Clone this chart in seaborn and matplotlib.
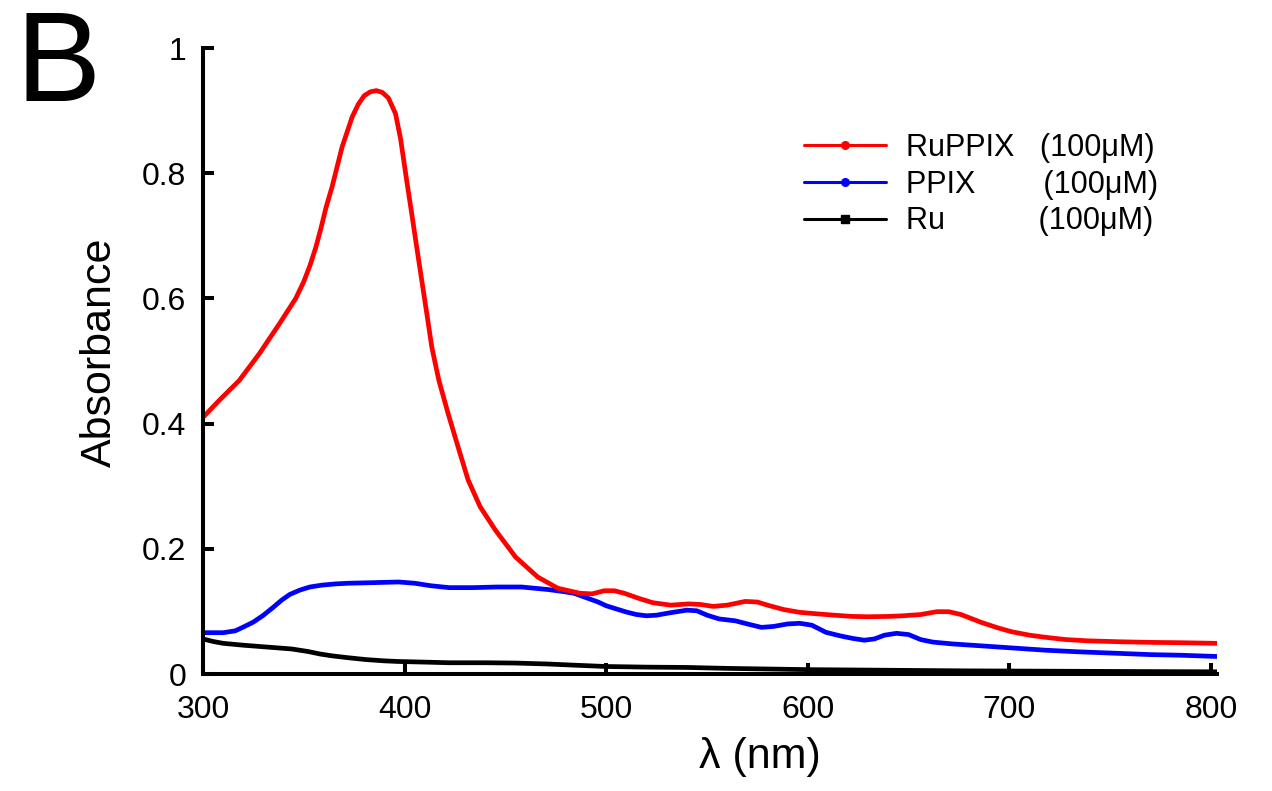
import pandas as pd
import matplotlib
matplotlib.use("Agg")
import matplotlib.pyplot as plt
import seaborn as sns
from matplotlib.lines import Line2D

# Espectros (nm, absorbância)
ruppix_nm = [300, 308, 318, 328, 338, 346, 350, 353, 356, 358.5, 361, 364, 369,
             374, 377, 380, 383, 386, 389, 392, 395.5, 398, 401, 403.5, 406,
             408.5, 411, 413.5, 417, 421.5, 426.5, 431.5, 437.5, 445, 455, 466,
             476, 487, 493, 499, 504, 509, 516, 523, 532, 541, 547, 553, 560,
             569, 575, 580, 588, 596, 605, 613, 622, 630, 640, 647, 656, 664,
             670, 676, 686, 694, 701, 710, 718, 728, 739, 755, 771, 785, 803]
ruppix_abs = [0.41, 0.437, 0.469, 0.512, 0.56, 0.600, 0.627, 0.652, 0.682, 0.712,
              0.745, 0.778, 0.842, 0.89, 0.91, 0.924, 0.930, 0.932, 0.929, 0.92,
              0.895, 0.855, 0.789, 0.736, 0.682, 0.629, 0.576, 0.522, 0.469,
              0.417, 0.363, 0.31, 0.267, 0.23, 0.187, 0.155, 0.137, 0.129, 0.128,
              0.133, 0.133, 0.129, 0.121, 0.114, 0.110, 0.112, 0.111, 0.108,
              0.110, 0.116, 0.115, 0.110, 0.103, 0.0985, 0.096, 0.094, 0.092,
              0.0915, 0.092, 0.093, 0.095, 0.0996, 0.0995, 0.095, 0.0825, 0.074,
              0.0676, 0.062, 0.0586, 0.055, 0.053, 0.0515, 0.0505, 0.050, 0.049]

ppix_nm = [300, 310, 316, 320, 325, 330, 335, 339, 343, 348, 353, 359, 366, 372,
           385, 397, 405, 413, 422, 434, 446, 458, 471, 478, 484, 490, 496, 500,
           504, 510, 515, 520, 525, 532, 540, 545, 550, 556, 564, 570, 577, 583,
           590, 596, 602, 609, 616, 622, 628, 633, 638, 644, 650, 656, 662, 672,
           686, 702, 718, 734, 750, 770, 785, 803]
ppix_abs = [0.066, 0.066, 0.069, 0.075, 0.083, 0.094, 0.107, 0.118, 0.127, 0.134,
            0.139, 0.142, 0.144, 0.145, 0.146, 0.147, 0.145, 0.141, 0.138, 0.138,
            0.139, 0.139, 0.135, 0.132, 0.129, 0.122, 0.115, 0.109, 0.105, 0.099,
            0.095, 0.093, 0.094, 0.098, 0.102, 0.101, 0.094, 0.088, 0.085, 0.080,
            0.0745, 0.076, 0.080, 0.081, 0.078, 0.0666, 0.061, 0.057, 0.054,
            0.056, 0.062, 0.065, 0.063, 0.055, 0.051, 0.048, 0.045, 0.0415,
            0.038, 0.0355, 0.0335, 0.031, 0.030, 0.028]

ru_nm = [300, 305, 310, 320, 328, 336, 344, 352, 358, 364, 372, 381, 390, 397,
         410, 422, 440, 455, 471, 485, 500, 520, 540, 560, 580, 600, 640, 680,
         720, 760, 803]
ru_abs = [0.056, 0.052, 0.049, 0.046, 0.044, 0.042, 0.040, 0.036, 0.032, 0.029,
          0.026, 0.023, 0.021, 0.020, 0.019, 0.018, 0.018, 0.0175, 0.016, 0.014,
          0.012, 0.011, 0.0105, 0.009, 0.008, 0.007, 0.006, 0.005, 0.0045,
          0.004, 0.0035]

series_names = ['RuPPIX', 'PPIX', 'Ru']
legend_labels = ['RuPPIX   (100μM)', 'PPIX        (100μM)', 'Ru           (100μM)']
cores = {'RuPPIX': '#ff0000', 'PPIX': '#0000ff', 'Ru': '#000000'}
marcadores = {'RuPPIX': 'o', 'PPIX': 'o', 'Ru': 's'}

x_ticks = [300, 400, 500, 600, 700, 800]
y_ticks = [0, 0.2, 0.4, 0.6, 0.8, 1.0]
y_ticklabels = ['0', '0.2', '0.4', '0.6', '0.8', '1']

df = pd.concat([
    pd.DataFrame({'nm': ruppix_nm, 'abs': ruppix_abs, 'amostra': 'RuPPIX'}),
    pd.DataFrame({'nm': ppix_nm, 'abs': ppix_abs, 'amostra': 'PPIX'}),
    pd.DataFrame({'nm': ru_nm, 'abs': ru_abs, 'amostra': 'Ru'}),
], ignore_index=True)

sns.set_style("ticks")
plt.rcParams['font.family'] = ['Liberation Sans', 'DejaVu Sans']
for chave in ['text.color', 'axes.labelcolor', 'xtick.color', 'ytick.color',
              'axes.edgecolor']:
    plt.rcParams[chave] = 'black'

fig = plt.figure(figsize=(12.72, 7.91), dpi=100)
ax = fig.add_axes([0.1596, 0.1479, 0.7972, 0.7914])

sns.lineplot(data=df, x='nm', y='abs', hue='amostra', hue_order=series_names[::-1],
             palette=cores, linewidth=3.4, sort=False, estimator=None,
             legend=False, ax=ax)

ax.set_xlim(300, 803)
ax.set_ylim(0, 1)
ax.set_xticks(x_ticks)
ax.set_yticks(y_ticks)
ax.set_yticklabels(y_ticklabels)

for lado in ['top', 'right']:
    ax.spines[lado].set_visible(False)
for lado in ['left', 'bottom']:
    ax.spines[lado].set_linewidth(2.9)
ax.spines['left'].set_bounds(0, 1)
ax.spines['bottom'].set_bounds(300, 803)

ax.tick_params(axis='both', direction='in', length=8, width=2.9,
               labelsize=23, color='black')
ax.tick_params(axis='x', pad=15)
ax.tick_params(axis='y', pad=12)

ax.set_xlabel('λ (nm)', fontsize=31, va='baseline')
ax.xaxis.set_label_coords(0.549, -0.150)
ax.set_ylabel('Absorbance', fontsize=31)
ax.yaxis.set_label_coords(-0.082, 0.514)

# Legenda com marcador no centro da linha
handles = [Line2D([0], [0], color=cores[s], lw=2.2, marker=marcadores[s],
                  markersize=5.5) for s in series_names]
fig.legend(handles, legend_labels, loc='upper left',
           bbox_to_anchor=(0.632, 0.832), frameon=False, fontsize=22,
           handlelength=2.7, handletextpad=0.65, labelspacing=0.22,
           borderpad=0, borderaxespad=0)

fig.text(0.012, 0.872, 'B', fontsize=92, ha='left', va='baseline')

fig.savefig('out.png', dpi=100)
